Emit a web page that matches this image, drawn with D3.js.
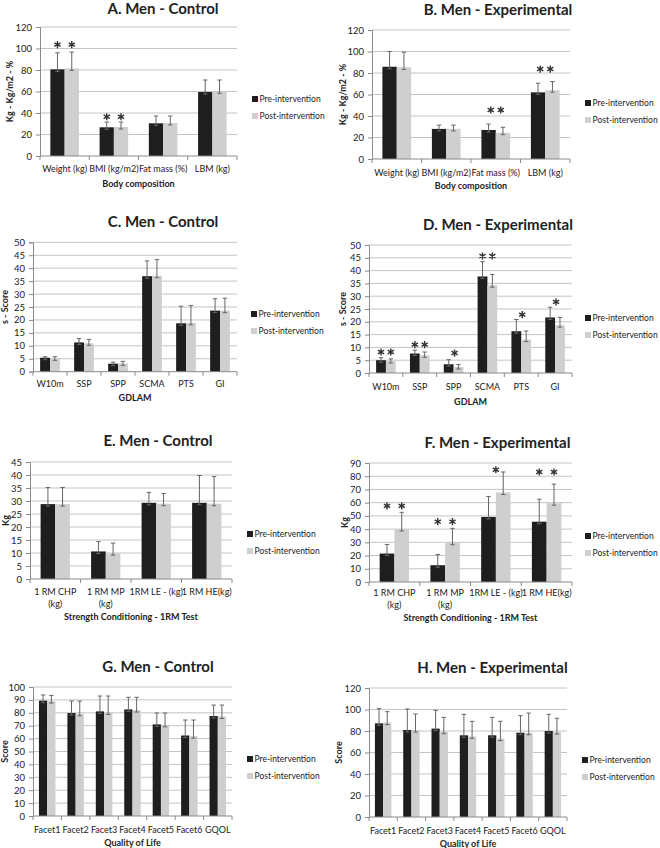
<!DOCTYPE html>
<html>
<head>
<meta charset="utf-8">
<script src="https://cdn.jsdelivr.net/npm/d3@7"></script>
<style>
  body { margin: 0; background: #fff; }
  svg text { font-family: Lato, "Open Sans", sans-serif; fill: #222; }
</style>
</head>
<body>
<div id="chart"></div>
<script>
// ---------------- data ----------------
var catsBody = ["Weight (kg)", "BMI (kg/m2)", "Fat mass (%)", "LBM (kg)"];
var catsGdlam = ["W10m", "SSP", "SPP", "SCMA", "PTS", "GI"];
var catsStrength = ["1 RM CHP\n(kg)", "1 RM MP\n(kg)", "1RM LE - (kg)", "1 RM HE(kg)"];
var catsQol = ["Facet1", "Facet2", "Facet3", "Facet4", "Facet5", "Facet6", "GQOL"];
var seriesNames = ["Pre-intervention", "Post-intervention"];

// A. body composition, control
var bodyCtrlPre = [80.6, 26.7, 30.4, 59.5];
var bodyCtrlPreSD = [15.4, 4.9, 6.8, 11.2];
var bodyCtrlPost = [81.5, 27, 30.7, 60.2];
var bodyCtrlPostSD = [15.2, 4.6, 6.5, 10.5];
var bodyCtrlStars = [[0, 0, 103.6], [0, 1, 103.6], [1, 0, 36.5], [1, 1, 36.5]];

// B. body composition, experimental
var bodyExpPre = [85.8, 28, 27, 62];
var bodyExpPreSD = [14.2, 3.5, 5.5, 8.5];
var bodyExpPost = [85.3, 28, 24.5, 64];
var bodyExpPostSD = [14, 3.5, 5, 8];
var bodyExpStars = [[2, 0.15, 45.6], [2, 0.85, 45.6], [3, 0.15, 83.7], [3, 0.85, 83.7]];

// C. GDLAM, control
var gdlamCtrlPre = [5.4, 11.3, 3.1, 36.9, 18.7, 23.6];
var gdlamCtrlPreSD = [0.4, 1.5, 0.6, 5.9, 6.6, 4.6];
var gdlamCtrlPost = [5.15, 10.95, 3.2, 37.1, 18.9, 23.6];
var gdlamCtrlPostSD = [0.65, 1.55, 0.8, 6.2, 6.7, 4.8];
var gdlamCtrlStars = [];

// D. GDLAM, experimental
var gdlamExpPre = [5.0, 7.6, 3.4, 37.7, 16.3, 21.7];
var gdlamExpPreSD = [1.0, 1.3, 1.8, 5.8, 4.6, 4.0];
var gdlamExpPost = [4.7, 6.9, 2.35, 34.3, 13.05, 18.7];
var gdlamExpPostSD = [0.8, 1.3, 0.95, 4.2, 3.35, 3.0];
var gdlamExpStars = [[0, 0, 8.2], [0, 1, 8.2], [1, 0, 11.1], [1, 1, 11.1], [2, 0.6, 7.8],
                     [3, 0, 45.7], [3, 1, 45.7], [4, 0.6, 22.8], [5, 0.6, 27.8]];

// E. strength, control
var strCtrlPre = [28.8, 10.6, 29.3, 29.3];
var strCtrlPreSD = [6.4, 3.8, 4.0, 10.5];
var strCtrlPost = [28.8, 9.95, 28.95, 28.95];
var strCtrlPostSD = [6.4, 3.85, 3.95, 10.45];
var strCtrlStars = [];

// F. strength, experimental
var strExpPre = [21.5, 12.7, 49.2, 45.6];
var strExpPreSD = [6.9, 8.1, 15.5, 17];
var strExpPost = [40.1, 29.7, 67.7, 59.6];
var strExpPostSD = [12.6, 10.9, 15.5, 14.4];
var strExpStars = [[0, 0, 57.6], [0, 1, 57.6], [1, 0, 45.6], [1, 1, 45.6], [2, 0.5, 84.9], [3, 0, 83.2], [3, 1, 83.2]];

// G. quality of life, control
var qolCtrlPre = [89.4, 79.8, 81.1, 82.6, 71, 62.4, 77.5];
var qolCtrlPreSD = [4.4, 9.3, 11.9, 9.4, 8.8, 12, 8.5];
var qolCtrlPost = [89.1, 79.3, 80.3, 82.1, 70.7, 61.9, 77.2];
var qolCtrlPostSD = [4.4, 9.8, 12.7, 9.9, 9.1, 12.5, 8.8];
var qolCtrlStars = [];

// H. quality of life, experimental
var qolExpPre = [87.1, 80.9, 82.2, 76, 76, 78.4, 80];
var qolExpPreSD = [13.7, 19.6, 17, 19.5, 16.7, 15.9, 15.5];
var qolExpPost = [87.8, 80.9, 79.4, 75, 72.9, 78.4, 79];
var qolExpPostSD = [10.2, 14.9, 13.3, 14, 16.1, 18.3, 12.8];
var qolExpStars = [];

// ---------------- layout of the 8 panels ----------------
var panels = [
  { title: "A. Men - Control", tx: 163, ty: 13.5, left: 40, right: 237, top: 27, bottom: 156, yMax: 120, step: 20,
    yLabel: "Kg - Kg/m2 - %", ylx: 9, xTitle: "Body composition", catY: 171.5, xty: 186.5, legX: 252, legY: [99, 116],
    cats: catsBody, pre: bodyCtrlPre, preSD: bodyCtrlPreSD, post: bodyCtrlPost, postSD: bodyCtrlPostSD, stars: bodyCtrlStars },
  { title: "B. Men - Experimental", tx: 498, ty: 15, left: 372, right: 570, top: 30, bottom: 159, yMax: 120, step: 20,
    yLabel: "Kg - Kg/m2 - %", ylx: 342, xTitle: "Body composition", catY: 176, xty: 188.5, legX: 585, legY: [103, 120],
    cats: catsBody, pre: bodyExpPre, preSD: bodyExpPreSD, post: bodyExpPost, postSD: bodyExpPostSD, stars: bodyExpStars },
  { title: "C. Men - Control", tx: 163, ty: 227, left: 33, right: 237, top: 242.3, bottom: 371.7, yMax: 50, step: 5,
    yLabel: "s - Score", ylx: 4, xTitle: "GDLAM", catY: 386.5, xty: 400.5, legX: 251, legY: [314, 331],
    cats: catsGdlam, pre: gdlamCtrlPre, preSD: gdlamCtrlPreSD, post: gdlamCtrlPost, postSD: gdlamCtrlPostSD, stars: gdlamCtrlStars },
  { title: "D. Men - Experimental", tx: 498, ty: 230, left: 369, right: 572, top: 245, bottom: 373, yMax: 50, step: 5,
    yLabel: "s - Score", ylx: 342, xTitle: "GDLAM", catY: 389.5, xty: 404.5, legX: 585, legY: [318, 335],
    cats: catsGdlam, pre: gdlamExpPre, preSD: gdlamExpPreSD, post: gdlamExpPost, postSD: gdlamExpPostSD, stars: gdlamExpStars },
  { title: "E. Men - Control", tx: 158, ty: 446, left: 30, right: 232, top: 462, bottom: 579, yMax: 45, step: 5,
    yLabel: "Kg", ylx: 5, xTitle: "Strength Conditioning - 1RM Test", catY: 595, xty: 620, legX: 247, legY: [534, 551],
    cats: catsStrength, pre: strCtrlPre, preSD: strCtrlPreSD, post: strCtrlPost, postSD: strCtrlPostSD, stars: strCtrlStars },
  { title: "F. Men - Experimental", tx: 497.5, ty: 448, left: 369, right: 572, top: 463, bottom: 582, yMax: 90, step: 10,
    yLabel: "Kg", ylx: 344, xTitle: "Strength Conditioning - 1RM Test", catY: 596, xty: 621, legX: 585, legY: [536, 553],
    cats: catsStrength, pre: strExpPre, preSD: strExpPreSD, post: strExpPost, postSD: strExpPostSD, stars: strExpStars },
  { title: "G. Men - Control", tx: 158, ty: 671.5, left: 33, right: 232, top: 687, bottom: 816, yMax: 100, step: 10,
    yLabel: "Score", ylx: 4, xTitle: "Quality of Life", catY: 832.5, xty: 845.5, legX: 247, legY: [759, 776],
    cats: catsQol, pre: qolCtrlPre, preSD: qolCtrlPreSD, post: qolCtrlPost, postSD: qolCtrlPostSD, stars: qolCtrlStars },
  { title: "H. Men - Experimental", tx: 492.5, ty: 672.5, left: 369, right: 567, top: 688, bottom: 817, yMax: 120, step: 20,
    yLabel: "Score", ylx: 338, xTitle: "Quality of Life", catY: 833.5, xty: 846.5, legX: 582, legY: [760, 777],
    cats: catsQol, pre: qolExpPre, preSD: qolExpPreSD, post: qolExpPost, postSD: qolExpPostSD, stars: qolExpStars }
];

var colors = ["#1e1e1e", "#cfcfcf"];
var gridColor = "#c4c4c4";
var axisColor = "#8a8a8a";
var errColor = "#666";
var smallFont = "9px";

var svg = d3.select("#chart").append("svg")
  .attr("width", 660)
  .attr("height", 848);

panels.forEach(drawPanel);

function drawPanel(p) {
  var g = svg.append("g");
  var n = p.cats.length;

  var y = d3.scaleLinear().domain([0, p.yMax]).range([p.bottom, p.top]);
  var x = d3.scaleBand()
    .domain(d3.range(n))
    .range([p.left, p.right])
    .paddingInner(0.42)
    .paddingOuter(0.21);
  var bw = x.bandwidth() / 2;
  var ticks = d3.range(0, p.yMax + p.step / 2, p.step);

  // gridlines
  g.selectAll(".grid")
    .data(ticks.slice(1))
    .enter()
    .append("line")
    .attr("x1", p.left)
    .attr("x2", p.right)
    .attr("y1", function(d) { return y(d); })
    .attr("y2", function(d) { return y(d); })
    .attr("stroke", gridColor)
    .attr("stroke-width", 1);

  // y axis
  var ya = g.append("g")
    .attr("transform", "translate(" + p.left + ",0)")
    .call(d3.axisLeft(y).tickValues(ticks).tickSize(4).tickPadding(4));
  ya.select(".domain").attr("stroke", axisColor);
  ya.selectAll(".tick line").attr("stroke", axisColor);
  ya.selectAll(".tick text")
    .attr("font-family", "Lato, sans-serif")
    .attr("font-size", "9.5px")
    .attr("fill", "#333");

  // bars, one row per series
  var rows = [];
  for (var i = 0; i < n; i++) {
    rows.push({ c: i, s: 0, v: p.pre[i], sd: p.preSD[i] });
    rows.push({ c: i, s: 1, v: p.post[i], sd: p.postSD[i] });
  }

  g.selectAll(".bar")
    .data(rows)
    .enter()
    .append("rect")
    .attr("x", function(d) { return x(d.c) + d.s * bw; })
    .attr("y", function(d) { return y(d.v); })
    .attr("width", bw)
    .attr("height", function(d) { return y(0) - y(d.v); })
    .attr("fill", function(d) { return colors[d.s]; });

  // error bars (upper SD, small cap at the bar top)
  var cap = 2.2;
  var eb = g.selectAll(".err")
    .data(rows)
    .enter()
    .append("g")
    .attr("transform", function(d) { return "translate(" + (x(d.c) + d.s * bw + bw / 2) + ",0)"; });
  eb.append("line")
    .attr("x1", 0).attr("x2", 0)
    .attr("y1", function(d) { return y(d.v) + 2; })
    .attr("y2", function(d) { return y(d.v + d.sd); })
    .attr("stroke", errColor);
  eb.append("line")
    .attr("x1", -cap).attr("x2", cap)
    .attr("y1", function(d) { return y(d.v + d.sd); })
    .attr("y2", function(d) { return y(d.v + d.sd); })
    .attr("stroke", errColor);
  eb.append("line")
    .attr("x1", -cap).attr("x2", cap)
    .attr("y1", function(d) { return y(d.v) + 2; })
    .attr("y2", function(d) { return y(d.v) + 2; })
    .attr("stroke", errColor);

  // x axis line + category boundary ticks
  g.append("line")
    .attr("x1", p.left).attr("x2", p.right)
    .attr("y1", y(0)).attr("y2", y(0))
    .attr("stroke", axisColor);
  g.selectAll(".xtick")
    .data(d3.range(n + 1))
    .enter()
    .append("line")
    .attr("x1", function(i) { return p.left + i * x.step(); })
    .attr("x2", function(i) { return p.left + i * x.step(); })
    .attr("y1", y(0))
    .attr("y2", y(0) + 4)
    .attr("stroke", axisColor);

  // category labels (may wrap on "\n")
  var cl = g.selectAll(".cat")
    .data(p.cats)
    .enter()
    .append("text")
    .attr("text-anchor", "middle")
    .attr("font-size", smallFont)
    .attr("fill", "#333")
    .attr("x", function(d, i) { return x(i) + x.bandwidth() / 2; })
    .attr("y", p.catY);
  cl.each(function(d, i) {
    var parts = d.split("\n");
    var t = d3.select(this);
    parts.forEach(function(s, k) {
      t.append("tspan")
        .attr("x", x(i) + x.bandwidth() / 2)
        .attr("dy", k === 0 ? 0 : 11.5)
        .text(s);
    });
  });

  // significance stars
  g.selectAll(".star")
    .data(p.stars)
    .enter()
    .append("path")
    .attr("transform", function(d) {
      return "translate(" + (x(d[0]) + d[1] * bw + bw / 2) + "," + y(d[2]) + ")";
    })
    .attr("d", d3.symbol().type(d3.symbolAsterisk).size(36))
    .attr("fill", "none")
    .attr("stroke", "#333")
    .attr("stroke-width", 1.4);

  // titles
  g.append("text")
    .attr("x", p.tx).attr("y", p.ty)
    .attr("text-anchor", "middle")
    .attr("font-size", "15px")
    .attr("font-weight", "bold")
    .text(p.title);

  g.append("text")
    .attr("x", (p.left + p.right) / 2).attr("y", p.xty)
    .attr("text-anchor", "middle")
    .attr("font-size", smallFont)
    .attr("font-weight", "bold")
    .text(p.xTitle);

  g.append("text")
    .attr("transform", "translate(" + p.ylx + "," + ((p.top + p.bottom) / 2) + ") rotate(-90)")
    .attr("text-anchor", "middle")
    .attr("dominant-baseline", "central")
    .attr("font-size", smallFont)
    .attr("font-weight", "bold")
    .text(p.yLabel);

  // legend
  seriesNames.forEach(function(name, k) {
    g.append("rect")
      .attr("x", p.legX).attr("y", p.legY[k] - 3)
      .attr("width", 6).attr("height", 6)
      .attr("fill", colors[k]);
    g.append("text")
      .attr("x", p.legX + 7.5).attr("y", p.legY[k] + 3.2)
      .attr("font-size", "8.5px")
      .attr("fill", "#333")
      .text(name);
  });
}
</script>
</body>
</html>
